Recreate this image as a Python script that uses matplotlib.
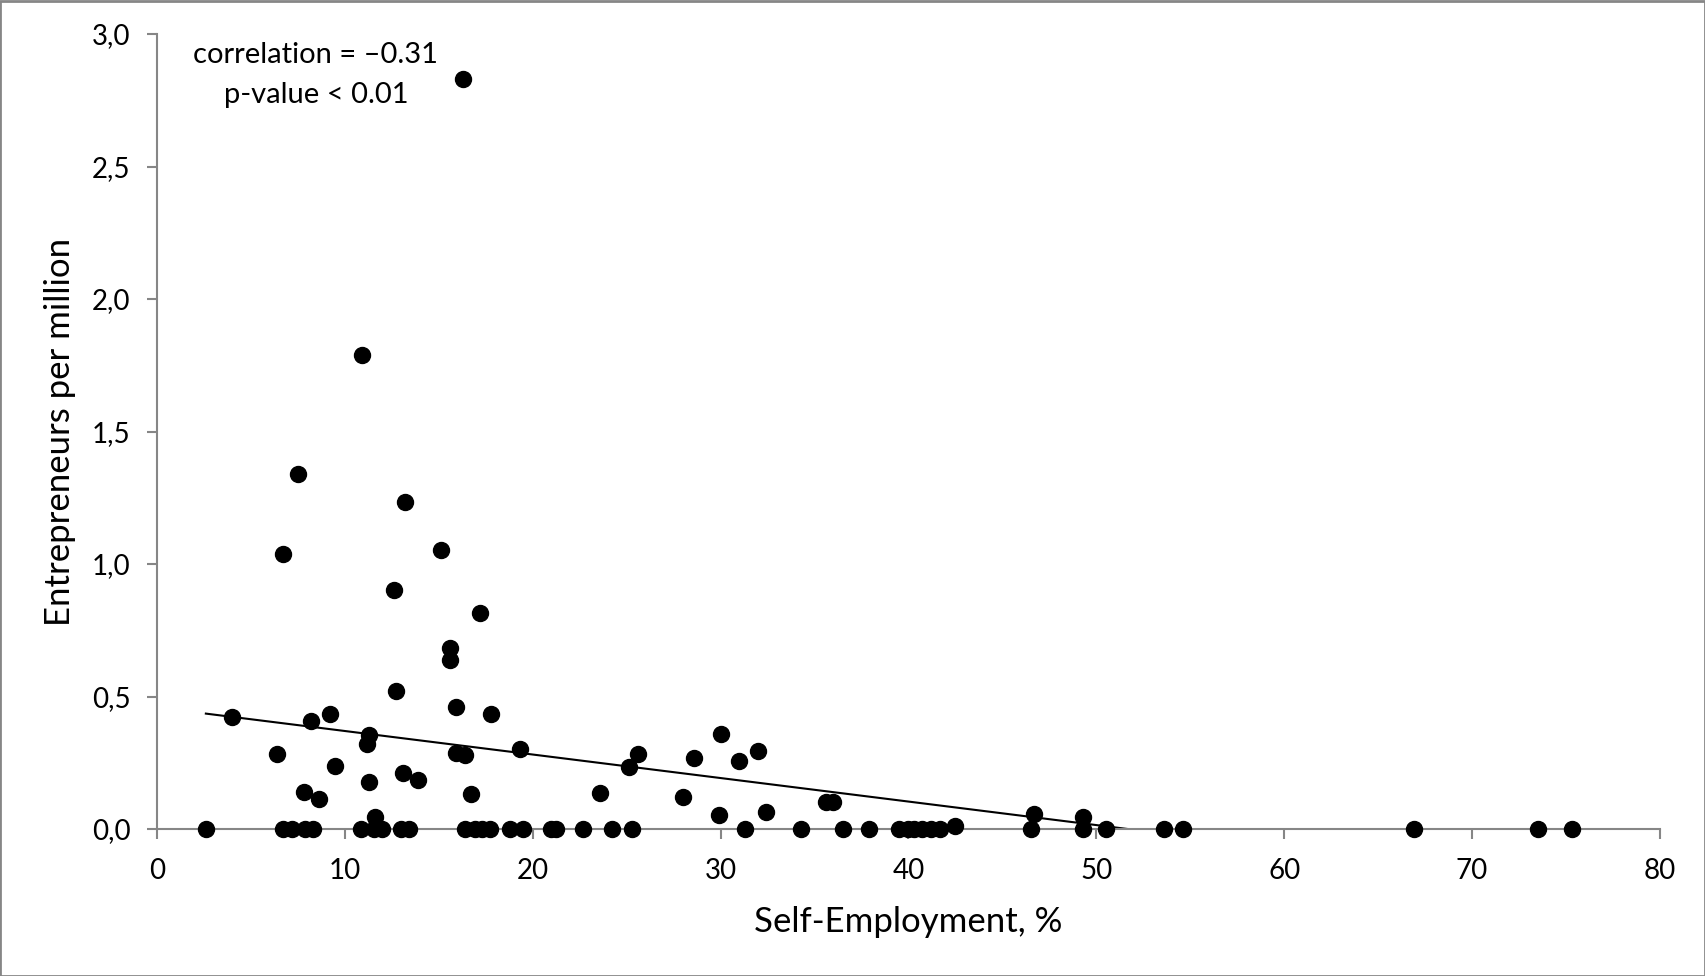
import numpy as np
import matplotlib
matplotlib.use("Agg")
import matplotlib.pyplot as plt
from matplotlib.patches import Rectangle

plt.rcParams['font.family'] = ['Lato', 'DejaVu Sans']

# Self-employment (%) and entrepreneurs per million
self_employment = [
    # non-zero points
    4.0, 6.4, 7.8, 8.2, 8.6, 9.2, 9.5, 11.3, 11.2, 11.3, 11.6, 12.7, 13.1, 13.9,
    15.9, 15.9, 16.4, 16.7, 17.8, 19.3, 23.6, 25.1, 25.6, 28.0, 28.6, 30.0, 29.9,
    31.0, 32.0, 32.4, 35.6, 36.0, 42.5, 46.7, 49.3,
    7.5, 13.2, 6.7, 15.1, 12.6, 17.2, 15.6, 15.6, 10.9, 16.3,
    # zero points
    2.6, 6.7, 7.2, 7.9, 8.3, 10.85, 11.55, 12.0, 13.0, 13.4, 16.4, 16.9, 17.3,
    17.7, 18.8, 19.5, 20.95, 21.25, 22.7, 24.2, 25.3, 31.3, 34.3, 36.5, 37.9,
    39.5, 39.95, 40.3, 40.7, 41.2, 41.7, 46.5, 49.3, 50.5, 53.6, 54.6, 66.9,
    73.5, 75.3,
]
entrepreneurs = [
    0.424, 0.283, 0.140, 0.408, 0.112, 0.433, 0.239, 0.355, 0.321, 0.178, 0.044,
    0.521, 0.210, 0.185, 0.461, 0.288, 0.279, 0.131, 0.433, 0.302, 0.135, 0.233,
    0.283, 0.122, 0.268, 0.357, 0.054, 0.257, 0.294, 0.064, 0.103, 0.103, 0.013,
    0.055, 0.044,
    1.338, 1.233, 1.038, 1.052, 0.902, 0.816, 0.684, 0.637, 1.788, 2.829,
    0, 0, 0, 0, 0, 0, 0, 0, 0, 0, 0, 0, 0, 0, 0, 0, 0, 0, 0, 0, 0, 0, 0, 0, 0,
    0, 0, 0, 0, 0, 0, 0, 0, 0, 0, 0, 0, 0, 0,
]

x_ticks = [0, 10, 20, 30, 40, 50, 60, 70, 80]
y_ticks = [0.0, 0.5, 1.0, 1.5, 2.0, 2.5, 3.0]
y_tick_labels = ["0,0", "0,5", "1,0", "1,5", "2,0", "2,5", "3,0"]
annotation = "correlation = \u20130.31\np-value < 0.01"

W, H = 1706, 976
fig = plt.figure(figsize=(W / 100, H / 100), dpi=100)
ax = fig.add_axes([157 / W, 1 - 829 / H, (1660 - 157) / W, (829 - 34) / H])

x = np.array(self_employment)
y = np.array(entrepreneurs)

ax.plot(x, y, linestyle='none', marker='o', markersize=11.5,
        markerfacecolor='black', markeredgecolor='black', zorder=3, clip_on=False)

# linear trendline, clipped at y = 0
slope, intercept = np.polyfit(x, y, 1)
x_start = x.min()
x_end = -intercept / slope if slope < 0 else x.max()
x_end = min(x_end, x.max())
xs = np.array([x_start, x_end])
ax.plot(xs, intercept + slope * xs, color='black', linewidth=1.5, zorder=2)

ax.set_xlim(0, 80)
ax.set_ylim(0, 3.0)
ax.set_xticks(x_ticks)
ax.set_xticklabels([str(t) for t in x_ticks])
ax.set_yticks(y_ticks)
ax.set_yticklabels(y_tick_labels)

gray = '#868686'
for s in ['top', 'right']:
    ax.spines[s].set_visible(False)
for s in ['left', 'bottom']:
    ax.spines[s].set_color(gray)
    ax.spines[s].set_linewidth(1.5)
ax.tick_params(axis='both', direction='out', length=7, width=1.5, color=gray,
               labelsize=20, labelcolor='black')
ax.tick_params(axis='x', pad=14)
ax.tick_params(axis='y', pad=12)

fig.text(908 / W, 1 - 922 / H, "Self-Employment, %", fontsize=25,
         ha='center', va='center')
fig.text(60 / W, 1 - 432 / H, "Entrepreneurs per million", fontsize=25,
         ha='center', va='center', rotation=90)

fig.text(316 / W, 1 - 75 / H, annotation, fontsize=21, ha='center', va='center',
         linespacing=1.65)

fig.patches.append(Rectangle((0.5 / W, 0.5 / H), 1 - 1.5 / W, 1 - 1.5 / H,
                             transform=fig.transFigure, fill=False,
                             edgecolor=gray, linewidth=2))

fig.savefig("out.png", dpi=100)
